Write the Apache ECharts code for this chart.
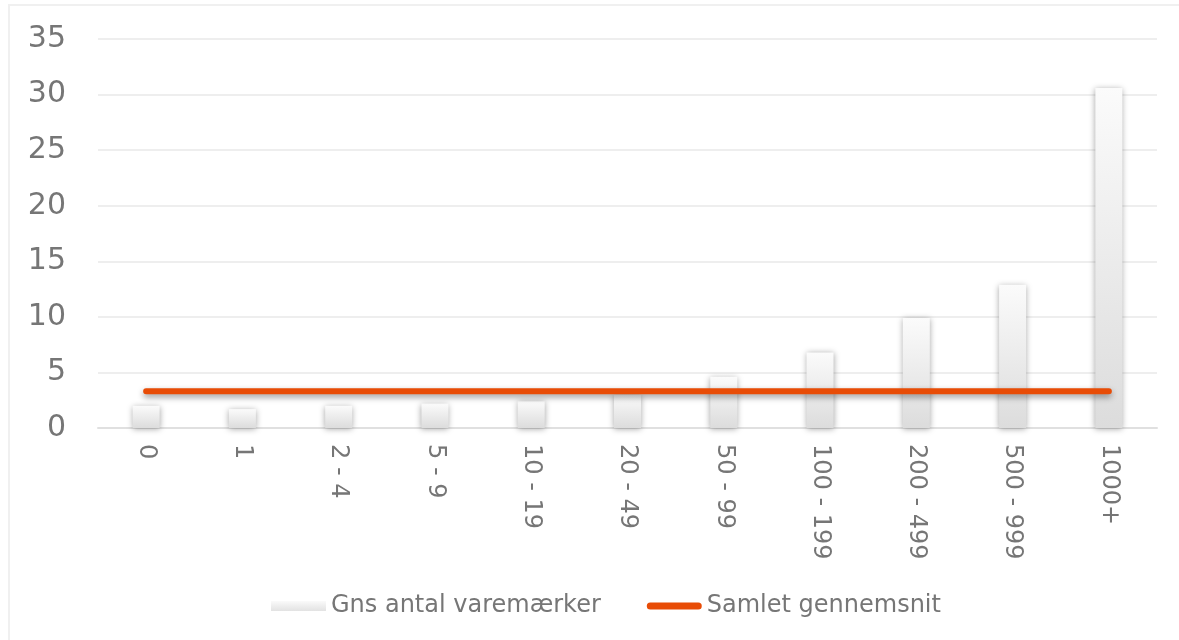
<!DOCTYPE html>
<html>
<head>
<meta charset="utf-8">
<script src="https://cdn.jsdelivr.net/npm/echarts@6/dist/echarts.min.js"></script>
<style>html,body{margin:0;padding:0;background:#fff}#c{width:1179px;height:640px}</style>
</head>
<body>
<div id="c"></div>
<script>
const categories = ['0', '1', '2 - 4', '5 - 9', '10 - 19', '20 - 49', '50 - 99', '100 - 199', '200 - 499', '500 - 999', '1000+'];
const avgBrands = [2.0, 1.7, 2.0, 2.2, 2.4, 3.0, 4.6, 6.8, 9.9, 12.9, 30.6];
const overallAvg = [3.3, 3.3, 3.3, 3.3, 3.3, 3.3, 3.3, 3.3, 3.3, 3.3, 3.3];
const yTicks = { min: 0, max: 35, interval: 5 };

const chart = echarts.init(document.getElementById('c'));
const font = 'DejaVu Sans, Verdana, sans-serif';
const barGrad = new echarts.graphic.LinearGradient(0, 0, 0, 1, [
  { offset: 0, color: '#fbfbfb' },
  { offset: 1, color: '#dcdcdc' }
]);
const legendGrad = new echarts.graphic.LinearGradient(0, 0, 0, 1, [
  { offset: 0, color: '#fafafa' },
  { offset: 1, color: '#e2e2e2' }
]);
chart.setOption({
  animation: false,
  backgroundColor: '#fff',
  graphic: [{
    type: 'rect', silent: true, z: -1,
    shape: { x: 9, y: 5, width: 1180, height: 640 },
    style: { fill: 'none', stroke: '#f0f0f0', lineWidth: 2 }
  }],
  grid: { left: 98, right: 22, top: 39, bottom: 212, containLabel: false },
  legend: {
    bottom: 17,
    left: 266,
    itemGap: 46,
    itemWidth: 55,
    itemHeight: 10,
    textStyle: { fontFamily: font, fontSize: 24, color: '#767676', padding: [0, 0, 0, 0] },
    data: [
      { name: 'Gns antal varemærker', icon: 'rect', itemStyle: { color: legendGrad } },
      { name: 'Samlet gennemsnit', icon: 'path://M3.5,0 H51.5 A3.5,3.5 0 0 1 51.5,7 H3.5 A3.5,3.5 0 0 1 3.5,0 Z', itemStyle: { color: '#e84c06' } }
    ]
  },
  xAxis: {
    type: 'category',
    data: categories,
    axisLine: { show: true, lineStyle: { color: '#e0e0e0', width: 2 } },
    axisTick: { show: false },
    axisLabel: {
      rotate: -90, margin: 16, fontFamily: font, fontSize: 24, color: '#767676',
      align: 'left', verticalAlign: 'middle'
    }
  },
  yAxis: {
    type: 'value',
    min: yTicks.min, max: yTicks.max, interval: yTicks.interval,
    axisLine: { show: false },
    axisTick: { show: false },
    splitLine: { lineStyle: { color: '#e8e8e8', width: 1.5 } },
    axisLabel: { fontFamily: font, fontSize: 30, color: '#767676', margin: 32, padding: [7, 0, 0, 0] }
  },
  series: [
    {
      name: 'Gns antal varemærker',
      type: 'bar',
      data: avgBrands,
      barWidth: 27,
      itemStyle: {
        color: barGrad,
        shadowColor: 'rgba(0,0,0,0.35)',
        shadowBlur: 6,
        shadowOffsetX: 0,
        shadowOffsetY: 1
      }
    },
    {
      name: 'Samlet gennemsnit',
      type: 'line',
      data: overallAvg,
      symbol: 'none',
      z: 5,
      itemStyle: { color: '#e84c06' },
      lineStyle: {
        color: '#e84c06', width: 6, cap: 'round',
        shadowColor: 'rgba(0,0,0,0.4)', shadowBlur: 6, shadowOffsetY: 3
      }
    }
  ]
});
</script>
</body>
</html>
